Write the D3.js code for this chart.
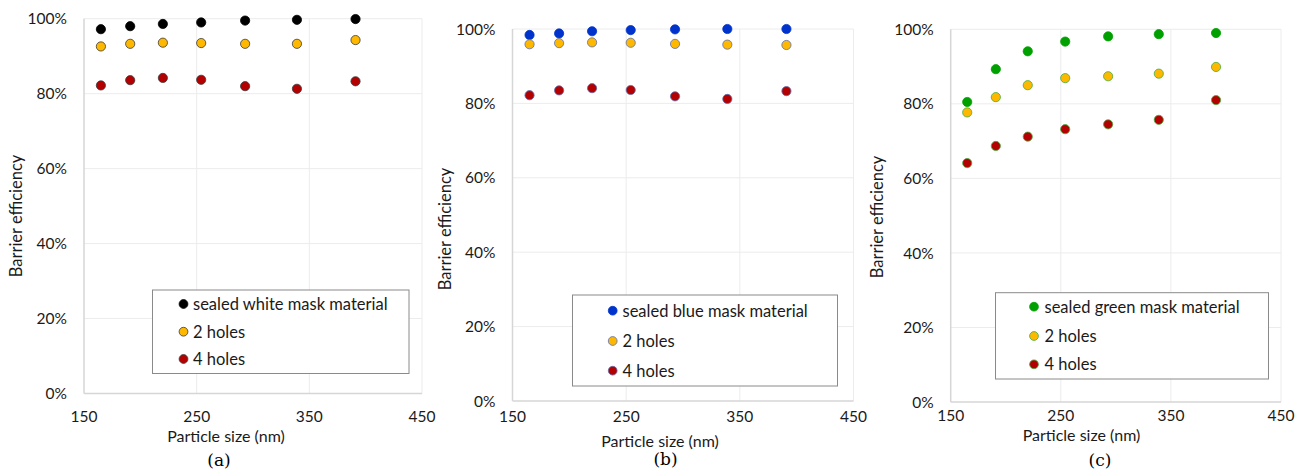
<!DOCTYPE html>
<html>
<head>
<meta charset="utf-8">
<script src="https://cdn.jsdelivr.net/npm/d3@7"></script>
<style>
  html, body { margin: 0; padding: 0; background: #fff; }
  svg { display: block; }
  text { font-family: Lato, "Open Sans", sans-serif; fill: #1a1a1a; }
</style>
</head>
<body>
<svg id="chart" width="1307" height="469"></svg>
<script>
// ---------------- data ----------------
const particleSizes = [165, 191, 220, 254, 293, 339, 391];
const xTicks = [150, 250, 350, 450];
const yTicks = [0, 0.2, 0.4, 0.6, 0.8, 1.0];

const whiteSealed = [0.972, 0.980, 0.986, 0.990, 0.995, 0.997, 0.999];
const white2Holes = [0.926, 0.933, 0.936, 0.935, 0.933, 0.933, 0.943];
const white4Holes = [0.822, 0.836, 0.842, 0.837, 0.820, 0.813, 0.833];

const blueSealed = [0.984, 0.988, 0.994, 0.997, 0.999, 1.000, 1.000];
const blue2Holes = [0.959, 0.962, 0.964, 0.963, 0.960, 0.958, 0.957];
const blue4Holes = [0.822, 0.835, 0.841, 0.836, 0.819, 0.812, 0.833];

const greenSealed = [0.805, 0.893, 0.941, 0.967, 0.981, 0.987, 0.990];
const green2Holes = [0.777, 0.818, 0.850, 0.869, 0.874, 0.881, 0.899];
const green4Holes = [0.641, 0.687, 0.712, 0.732, 0.745, 0.757, 0.810];

const legendLabelsA = ["sealed white mask material", "2 holes", "4 holes"];
const legendLabelsB = ["sealed blue mask material", "2 holes", "4 holes"];
const legendLabelsC = ["sealed green mask material", "2 holes", "4 holes"];

const xTitle = "Particle size (nm)";
const yTitle = "Barrier efficiency";
const panelLabels = ["(a)", "(b)", "(c)"];

// ---------------- layout / style ----------------
const ORANGE = "#FFB800", RED = "#B40000";
const panels = [
  {
    series: [whiteSealed, white2Holes, white4Holes], labels: legendLabelsA,
    fills: ["#000000", ORANGE, RED], strokes: ["#000000", "#3a3a3a", "#3a3a3a"],
    x0: 84, x1: 422, yTop: 18.7, yBot: 393.5,
    leg: { x: 152.5, y: 290, w: 256.5, h: 83.5, mx: 183.5, tx: 193, rows: [304, 331.7, 359] },
    xTitleX: 226, xTitleY: 436, labX: 219, labY: 460, yTitleX: 16, yTitleY: 216, tickY: 416
  },
  {
    series: [blueSealed, blue2Holes, blue4Holes], labels: legendLabelsB,
    fills: ["#0033CC", ORANGE, RED], strokes: ["#0033CC", "#5b6fb0", "#5b6fb0"],
    x0: 512.5, x1: 853.5, yTop: 29, yBot: 401,
    leg: { x: 572.5, y: 295, w: 265, h: 91, mx: 612.7, tx: 622.5, rows: [310.7, 341, 370.7] },
    xTitleX: 660, xTitleY: 441, labX: 665.5, labY: 458.5, yTitleX: 445, yTitleY: 229, tickY: 416.5
  },
  {
    series: [greenSealed, green2Holes, green4Holes], labels: legendLabelsC,
    fills: ["#00A000", ORANGE, RED], strokes: ["#00A000", "#3fae3f", "#3fae3f"],
    x0: 950.7, x1: 1281, yTop: 29.3, yBot: 402,
    leg: { x: 995.5, y: 292.7, w: 273, h: 86.3, mx: 1034, tx: 1044.5, rows: [306.7, 336, 364.3] },
    xTitleX: 1081.5, xTitleY: 435, labX: 1100, labY: 459.5, yTitleX: 877, yTitleY: 217, tickY: 415.5
  }
];

const svg = d3.select("#chart");

panels.forEach((p, i) => {
  const x = d3.scaleLinear().domain([150, 450]).range([p.x0, p.x1]);
  const y = d3.scaleLinear().domain([0, 1]).range([p.yBot, p.yTop]);
  const g = svg.append("g");

  // gridlines
  g.append("g").selectAll("line.hg").data(yTicks.slice(1)).join("line")
    .attr("x1", p.x0).attr("x2", p.x1)
    .attr("y1", d => y(d)).attr("y2", d => y(d))
    .attr("stroke", "#ececec").attr("stroke-width", 1);
  g.append("g").selectAll("line.vg").data(xTicks.slice(1)).join("line")
    .attr("x1", d => x(d)).attr("x2", d => x(d))
    .attr("y1", p.yTop).attr("y2", p.yBot)
    .attr("stroke", "#ececec").attr("stroke-width", 1);

  // axes lines
  g.append("line").attr("x1", p.x0).attr("x2", p.x0).attr("y1", p.yTop).attr("y2", p.yBot)
    .attr("stroke", "#d6d6d6").attr("stroke-width", 1.5);
  g.append("line").attr("x1", p.x0).attr("x2", p.x1).attr("y1", p.yBot).attr("y2", p.yBot)
    .attr("stroke", "#d6d6d6").attr("stroke-width", 1.5);

  // y tick labels
  const fmt = d3.format(".0%");
  g.append("g").selectAll("text").data(yTicks).join("text")
    .attr("x", p.x0 - 17).attr("y", d => y(d)).attr("dy", "0.36em")
    .attr("text-anchor", "end").attr("font-size", 15.5).text(d => fmt(d));

  // x tick labels
  g.append("g").selectAll("text").data(xTicks).join("text")
    .attr("x", d => x(d)).attr("y", p.tickY).attr("dy", "0.36em")
    .attr("text-anchor", "middle").attr("font-size", 15.5).text(d => d);

  // axis titles
  g.append("text").attr("x", p.xTitleX).attr("y", p.xTitleY).attr("dy", "0.36em")
    .attr("text-anchor", "middle").attr("font-size", 16).text(xTitle);
  g.append("text")
    .attr("transform", `translate(${p.yTitleX},${p.yTitleY}) rotate(-90)`)
    .attr("dy", "0.36em").attr("text-anchor", "middle").attr("font-size", 16.5).text(yTitle);

  // panel label
  g.append("text").attr("x", p.labX).attr("y", p.labY).attr("dy", "0.36em")
    .attr("text-anchor", "middle").attr("font-size", 17)
    .style("font-family", "'DejaVu Serif', 'Liberation Serif', serif").style("fill", "#000")
    .text(panelLabels[i]);

  // points
  p.series.forEach((vals, si) => {
    g.append("g").selectAll("circle").data(vals).join("circle")
      .attr("cx", (d, k) => x(particleSizes[k]))
      .attr("cy", d => y(d))
      .attr("r", 4.6)
      .attr("fill", p.fills[si])
      .attr("stroke", p.strokes[si]).attr("stroke-width", 0.8);
  });

  // legend
  const L = p.leg;
  g.append("rect").attr("x", L.x).attr("y", L.y).attr("width", L.w).attr("height", L.h)
    .attr("fill", "#fff").attr("stroke", "#8a8a8a").attr("stroke-width", 1);
  p.labels.forEach((lab, si) => {
    g.append("circle").attr("cx", L.mx).attr("cy", L.rows[si]).attr("r", 4.4)
      .attr("fill", p.fills[si]).attr("stroke", p.strokes[si]).attr("stroke-width", 0.8);
    g.append("text").attr("x", L.tx).attr("y", L.rows[si]).attr("dy", "0.36em")
      .attr("font-size", 16.5).text(lab);
  });
});
</script>
</body>
</html>
